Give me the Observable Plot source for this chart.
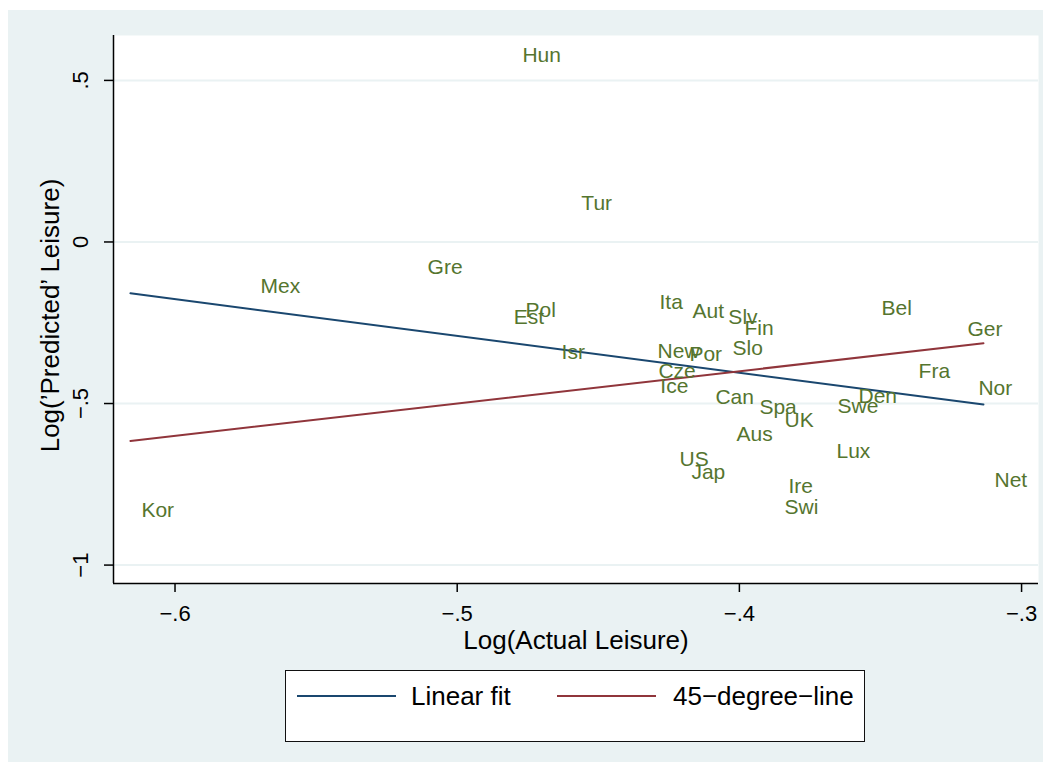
<!DOCTYPE html>
<html>
<head>
<meta charset="utf-8">
<script src="https://cdn.jsdelivr.net/npm/d3@7"></script>
<script src="https://cdn.jsdelivr.net/npm/@observablehq/plot@0.6"></script>
<style>
  html, body { margin: 0; padding: 0; background: #ffffff; }
  #graph { position: absolute; left: 8px; top: 10px; width: 1035px; height: 752px; background: #eaf2f3; font-family: "Liberation Sans", Arial, Helvetica, sans-serif; }
  #chart { position: absolute; left: 0; top: 0; }
  #legend { position: absolute; left: 277px; top: 660px; width: 578px; height: 70px; background: #ffffff; border: 1px solid #111; }
  .lg-line { position: absolute; height: 0; border-top: 2px solid; top: 24px; width: 99px; }
  .lg-text { position: absolute; top: 10px; font-size: 26px; line-height: 30px; color: #000; white-space: nowrap; }
</style>
</head>
<body>
<div id="graph">
  <div id="chart"></div>
  <div id="legend"></div>
</div>
<script>
// Country labels and values
const countries = ["Hun","Tur","Gre","Mex","Pol","Est","Ita","Aut","Slv","Fin","Bel","Ger","Isr","New","Por","Slo","Cze","Ice","Fra","Nor","Can","Spa","UK","Den","Swe","Aus","Lux","US","Jap","Ire","Swi","Net","Kor"];
const actual = [-0.4808,-0.4599,-0.5144,-0.5736,-0.4797,-0.4839,-0.4322,-0.4205,-0.4078,-0.4021,-0.3535,-0.3231,-0.4669,-0.4329,-0.4216,-0.4063,-0.4326,-0.4319,-0.3404,-0.3192,-0.4124,-0.3968,-0.3879,-0.3617,-0.3691,-0.4049,-0.3695,-0.4251,-0.4209,-0.3865,-0.3879,-0.3135,-0.6158];
const predicted = [0.577,0.119,-0.079,-0.138,-0.212,-0.234,-0.187,-0.215,-0.234,-0.268,-0.206,-0.271,-0.342,-0.339,-0.348,-0.330,-0.401,-0.447,-0.401,-0.454,-0.481,-0.512,-0.553,-0.478,-0.509,-0.596,-0.648,-0.673,-0.713,-0.756,-0.821,-0.738,-0.831];

// Linear fit endpoints and 45-degree line endpoints
const fitX = [-0.6158, -0.3135];
const fitY = [-0.159, -0.503];
const degX = [-0.6158, -0.3135];
const degY = [-0.6158, -0.3135];

const xTicks = [-0.6, -0.5, -0.4, -0.3];
const yTicks = [-1, -0.5, 0, 0.5];

const legendItems = ["Linear fit", "45\u2212degree\u2212line"];
const xTitle = "Log(Actual Leisure)";
const yTitle = "Log(\u2019Predicted\u2019 Leisure)";

const colNavy = "rgb(26,71,111)";
const colMaroon = "rgb(144,53,59)";
const colGreen = "rgb(85,117,47)";

const fmt = d => d === 0 ? "0" : (d < 0 ? "\u2212" : "") + String(Math.abs(d)).replace(/^0/, "");

const points = countries.map((c, i) => ({name: c, x: actual[i], y: predicted[i]}));
const fitLine = fitX.map((x, i) => ({x, y: fitY[i]}));
const degLine = degX.map((x, i) => ({x, y: degY[i]}));

const xDomain = [-0.6218, -0.2940];
const yDomain = [-1.057, 0.639];

const chart = Plot.plot({
  width: 1035,
  height: 655,
  marginLeft: 105,
  marginRight: 5,
  marginTop: 25,
  marginBottom: 82,
  style: {background: "transparent", fontFamily: "'Liberation Sans', Arial, Helvetica, sans-serif", color: "#000"},
  x: {domain: xDomain},
  y: {domain: yDomain},
  marks: [
    Plot.frame({fill: "#ffffff", stroke: null}),
    Plot.ruleY(yTicks, {stroke: "#eaf2f3", strokeWidth: 2}),
    Plot.line(fitLine, {x: "x", y: "y", stroke: colNavy, strokeWidth: 2}),
    Plot.line(degLine, {x: "x", y: "y", stroke: colMaroon, strokeWidth: 2}),
    Plot.text(points, {x: "x", y: "y", text: "name", textAnchor: "start", dx: 11, lineAnchor: "middle", fill: colGreen, fontSize: 21}),
    Plot.ruleX([xDomain[0]], {stroke: "#000", strokeWidth: 1.5}),
    Plot.ruleY([yDomain[0]], {stroke: "#000", strokeWidth: 1.5}),
    Plot.axisX(xTicks, {tickSize: 9, tickPadding: 13, fontSize: 22, tickFormat: fmt, label: null, strokeWidth: 1.5}),
    Plot.axisY(yTicks, {tickSize: 9, tickRotate: -90, tickPadding: 17, fontSize: 22, tickFormat: fmt, label: null, strokeWidth: 1.5}),
    Plot.text([xTitle], {frameAnchor: "bottom", dy: 65, lineAnchor: "bottom", fontSize: 26, fill: "#000"}),
    Plot.text([yTitle], {frameAnchor: "left", dx: -55, dy: 6, rotate: -90, lineAnchor: "bottom", textAnchor: "middle", fontSize: 26, fill: "#000"})
  ]
});
document.getElementById("chart").appendChild(chart);

// Legend (below the SVG)
const legend = document.getElementById("legend");
const legendLayout = [
  {color: colNavy, lineLeft: 11, textLeft: 125},
  {color: colMaroon, lineLeft: 271, textLeft: 387}
];
legendItems.forEach((label, i) => {
  const l = document.createElement("div");
  l.className = "lg-line";
  l.style.left = legendLayout[i].lineLeft + "px";
  l.style.borderTopColor = legendLayout[i].color;
  legend.appendChild(l);
  const t = document.createElement("div");
  t.className = "lg-text";
  t.style.left = legendLayout[i].textLeft + "px";
  t.textContent = label;
  legend.appendChild(t);
});
</script>
</body>
</html>
